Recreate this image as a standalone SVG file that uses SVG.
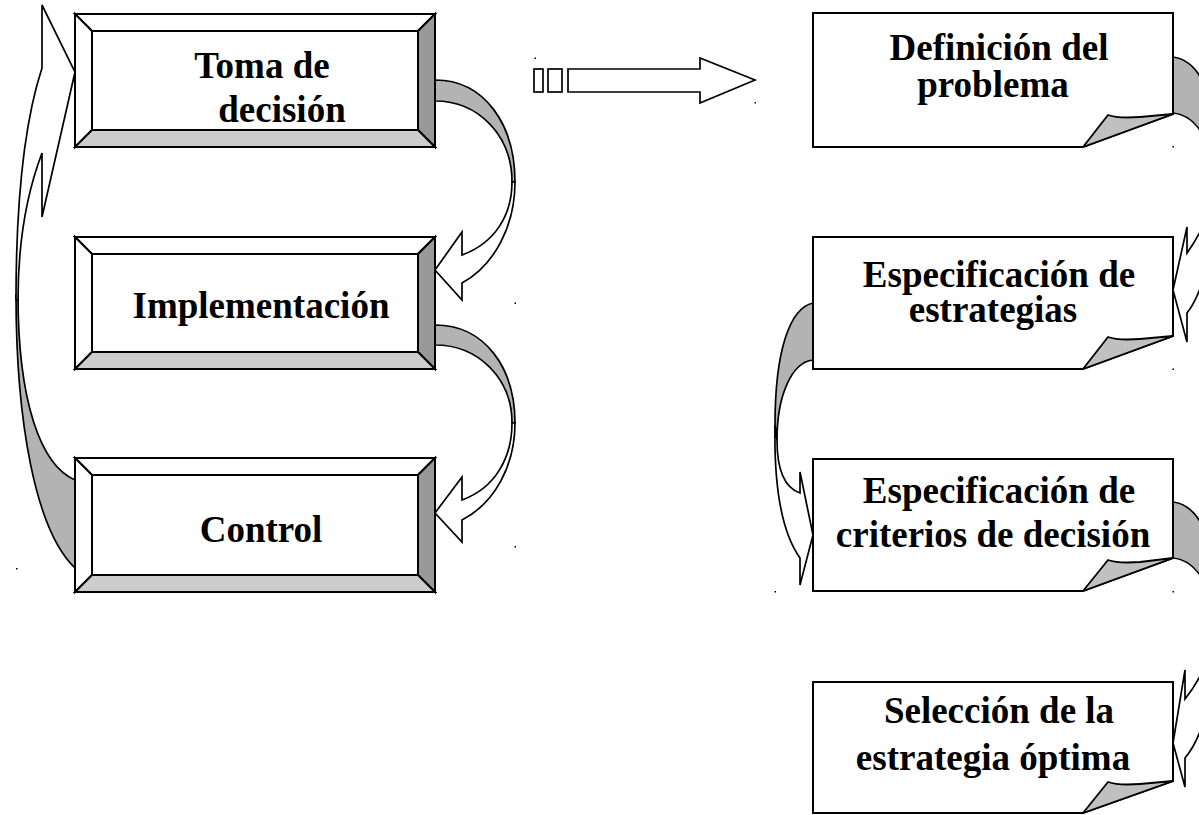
<svg xmlns="http://www.w3.org/2000/svg" width="1199" height="815" viewBox="0 0 1199 815">
<style>
.ln{stroke:#000;stroke-width:1.7;stroke-linejoin:miter}
.bk{fill:#b3b3b3}
.wh{fill:#fff}
.bt{fill:#fff;stroke:#000;stroke-width:2}
.bR{fill:#999;stroke:#000;stroke-width:2}
.bB{fill:#ccc;stroke:#000;stroke-width:2}
.box{fill:#fff;stroke:#000;stroke-width:2}
.flap{fill:#c0c0c0;stroke:#000;stroke-width:1.8;stroke-linejoin:round}
text{font-family:"Liberation Serif","Times New Roman",serif;font-weight:bold;font-size:37px;fill:#000;text-anchor:middle}
.dot{fill:#000}
</style>
<rect width="1199" height="815" fill="#fff"/>
<g id="connectors">
  <!-- Toma de decision -> Implementacion -->
  <path class="ln bk" d="M435,80 C485,80 515,125 515,182 L512,182 C512,135 478,101 435,101 Z"/>
  <path class="ln wh" d="M515,182 C515,225 495,265 462,283 L462,300 L435,270 L462,232 L462,255 C495,243 512,215 512,182 Z"/>
  <!-- Implementacion -> Control -->
  <path class="ln bk" d="M435,325 C485,325 515,368 515,423 L512,423 C512,378 478,345 435,345 Z"/>
  <path class="ln wh" d="M515,423 C515,465 495,503 462,520 L462,542 L435,513 L462,477 L462,500 C495,488 512,458 512,423 Z"/>
  <!-- Control -> Toma de decision -->
  <path class="ln bk" d="M16,295 C16,420 35,530 75,568 L75,480 C40,465 18,400 18,295 Z"/>
  <path class="ln wh" d="M16,300 C16,200 25,120 42,68 L42,5 L75,72 L42,217 L42,153 C28,190 18,240 18,300 Z"/>
  <!-- striped arrow -->
  <rect class="ln wh" x="534" y="69" width="9" height="23"/>
  <rect class="ln wh" x="548" y="69" width="14" height="23"/>
  <path class="ln wh" d="M568,69 L700,69 L700,58 L755,80 L700,103 L700,92 L568,92 Z"/>
  <!-- Definicion -> Especificacion estrategias -->
  <path class="ln bk" d="M1173,57 C1200,60 1218,100 1218,160 L1214,175 C1212,140 1195,115 1173,113 Z"/>
  <path class="ln wh" d="M1218,160 C1218,235 1205,290 1187,313 L1187,342 L1173,290 L1187,227 L1187,253 C1200,235 1214,210 1214,175 Z"/>
  <!-- estrategias -> criterios -->
  <path class="ln bk" d="M813,303 C790,308 775,350 775,425 L777,440 C777,395 792,362 813,360 Z"/>
  <path class="ln wh" d="M775,425 C774,480 780,530 800,558 L800,585 L813,535 L800,472 L800,493 C785,488 777,470 777,440 Z"/>
  <!-- criterios -> seleccion -->
  <path class="ln bk" d="M1173,502 C1200,505 1218,545 1218,605 L1214,620 C1212,585 1195,560 1173,558 Z"/>
  <path class="ln wh" d="M1218,605 C1218,680 1205,735 1185,758 L1185,787 L1173,743 L1185,670 L1185,699 C1200,680 1214,655 1214,620 Z"/>
</g>
<g id="node-toma">
  <rect class="box" x="75" y="14" width="360" height="133"/>
  <path class="bt" d="M75,14 H435 L418,31 H92 Z"/>
  <path class="bt" d="M75,14 L92,31 V130 L75,147 Z"/>
  <path class="bR" d="M435,14 V147 L418,130 V31 Z"/>
  <path class="bB" d="M75,147 H435 L418,130 H92 Z"/>
  <text x="262" y="78">Toma de</text>
  <text x="282" y="122">decisión</text>
</g>
<g id="node-implementacion">
  <rect class="box" x="75" y="237" width="360" height="132"/>
  <path class="bt" d="M75,237 H435 L418,254 H92 Z"/>
  <path class="bt" d="M75,237 L92,254 V352 L75,369 Z"/>
  <path class="bR" d="M435,237 V369 L418,352 V254 Z"/>
  <path class="bB" d="M75,369 H435 L418,352 H92 Z"/>
  <text x="261" y="318">Implementación</text>
</g>
<g id="node-control">
  <rect class="box" x="75" y="458" width="360" height="134"/>
  <path class="bt" d="M75,458 H435 L418,475 H92 Z"/>
  <path class="bt" d="M75,458 L92,475 V575 L75,592 Z"/>
  <path class="bR" d="M435,458 V592 L418,575 V475 Z"/>
  <path class="bB" d="M75,592 H435 L418,575 H92 Z"/>
  <text x="261" y="542">Control</text>
</g>
<g id="node-definicion">
  <path class="box" d="M813,13 H1173 V114 L1083,147 H813 Z"/>
  <path class="flap" d="M1083,147 L1108,115 C1116,118 1126,118 1140,117 L1173,114 Z"/>
  <text x="999" y="60">Definición del</text>
  <text x="993" y="97">problema</text>
</g>
<g id="node-estrategias">
  <path class="box" d="M813,237 H1173 V336 L1083,369 H813 Z"/>
  <path class="flap" d="M1083,369 L1108,337 C1116,340 1126,340 1140,339 L1173,336 Z"/>
  <text x="999" y="287">Especificación de</text>
  <text x="993" y="322">estrategias</text>
</g>
<g id="node-criterios">
  <path class="box" d="M813,459 H1173 V558 L1083,591 H813 Z"/>
  <path class="flap" d="M1083,591 L1108,560 C1116,563 1126,563 1140,562 L1173,558 Z"/>
  <text x="999" y="503">Especificación de</text>
  <text x="993" y="547">criterios de decisión</text>
</g>
<g id="node-seleccion">
  <path class="box" d="M813,682 H1173 V781 L1083,813 H813 Z"/>
  <path class="flap" d="M1083,813 L1108,782 C1116,785 1126,785 1140,784 L1173,781 Z"/>
  <text x="999" y="723">Selección de la</text>
  <text x="993" y="770">estrategia óptima</text>
</g>
<g id="marks">
  <rect class="dot" x="534.5" y="57.5" width="1.5" height="1.5"/>
  <rect class="dot" x="754.5" y="102" width="1.5" height="1.5"/>
  <rect class="dot" x="514.5" y="302.5" width="1.5" height="1.5"/>
  <rect class="dot" x="514.5" y="546" width="1.5" height="1.5"/>
  <rect class="dot" x="16" y="568" width="1.5" height="1.5"/>
  <rect class="dot" x="1172.5" y="146" width="1.5" height="1.5"/>
  <rect class="dot" x="1172.5" y="368.5" width="1.5" height="1.5"/>
  <rect class="dot" x="774.5" y="591" width="1.5" height="1.5"/>
  <rect class="dot" x="1172.5" y="591" width="1.5" height="1.5"/>
</g>
</svg>
